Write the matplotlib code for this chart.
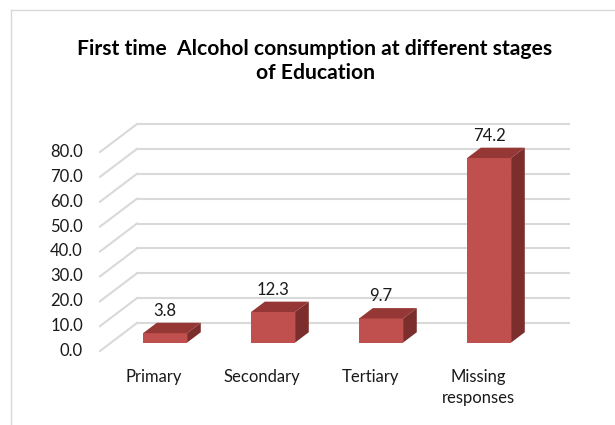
import numpy as np
import matplotlib.pyplot as plt
from matplotlib.patches import Polygon
from matplotlib.lines import Line2D

plt.rcParams['font.family'] = ['Lato', 'DejaVu Sans']

categories = ["Primary", "Secondary", "Tertiary", "Missing\nresponses"]
values = [3.8, 12.3, 9.7, 74.2]
y_ticks = [0, 10, 20, 30, 40, 50, 60, 70, 80]
title = "First time  Alcohol consumption at different stages\nof Education"

FRONT = "#c0504d"
TOP = "#943735"
SIDE = "#7b2e2c"
GRID = "#d9d9d9"

W, H = 615, 425
fig = plt.figure(figsize=(W / 100, H / 100), dpi=100)

# front plane of the 3-D box, in pixels
left, bottom, width, height = 100, 351, 432, 199
ax = fig.add_axes([left / W, (H - bottom) / H, width / W, height / H])
ax.set_xlim(0, len(categories))
ax.set_ylim(0, 80)
ax.axis("off")

ppx = width / len(categories)   # pixels per category
ppy = height / 80.0             # pixels per unit


def px(dx, dy):
    return dx / ppx, dy / ppy


# depth direction of the box (pixels)
wall_dx, wall_dy = 37, 28
bx0, by0 = px(wall_dx * 0.30, wall_dy * 0.30)   # bar front face
bx1, by1 = px(wall_dx * 0.37, wall_dy * 0.37)   # bar depth
wx, wy = px(wall_dx, wall_dy)

# gridlines: side wall diagonal + back wall horizontal
for v in y_ticks:
    ax.plot([0, wx], [v, v + wy], color=GRID, lw=1.5, clip_on=False, zorder=1)
    ax.plot([wx, len(categories) + wx], [v + wy, v + wy], color=GRID, lw=1.5,
            clip_on=False, zorder=1)

x = np.arange(len(categories)) + 0.5
bar_w = 44 / ppx

ax.bar(x + bx0, values, bar_w, bottom=by0, color=FRONT, edgecolor="none",
       clip_on=False, zorder=3)
for xc, v in zip(x, values):
    xl = xc + bx0 - bar_w / 2
    xr = xc + bx0 + bar_w / 2
    y0 = by0
    yt = v + by0
    top = Polygon([(xl, yt), (xr, yt), (xr + bx1, yt + by1), (xl + bx1, yt + by1)],
                  closed=True, facecolor=TOP, edgecolor="none", clip_on=False, zorder=3)
    side = Polygon([(xr, y0), (xr + bx1, y0 + by1), (xr + bx1, yt + by1), (xr, yt)],
                   closed=True, facecolor=SIDE, edgecolor="none", clip_on=False, zorder=3)
    ax.add_patch(top)
    ax.add_patch(side)
    ax.text(xc + bx0, yt + 22.5 / ppy, f"{v:.1f}", ha="center", va="center",
            fontsize=12, color="#1a1a1a", clip_on=False, zorder=4)

# value axis labels
for v in y_ticks:
    ax.text(-17 / ppx, v, f"{v:.1f}", ha="right", va="center", fontsize=12,
            color="#1a1a1a")

# category labels
for xc, c in zip(x, categories):
    ax.text(xc, -18 / ppy, c, ha="center", va="top", fontsize=12,
            color="#1a1a1a", linespacing=1.35)

fig.text(315 / W, 1 - 61 / H, title, ha="center", va="center", fontsize=15.2,
         fontweight="bold", color="#000000", linespacing=1.2)

# chart area border
fig.add_artist(Line2D([10.5 / W, 10.5 / W], [0, 1 - 9.5 / H], color=GRID, lw=1))
fig.add_artist(Line2D([10.5 / W, 1], [1 - 9.5 / H, 1 - 9.5 / H], color=GRID, lw=1))

fig.savefig("out.png", dpi=100)
